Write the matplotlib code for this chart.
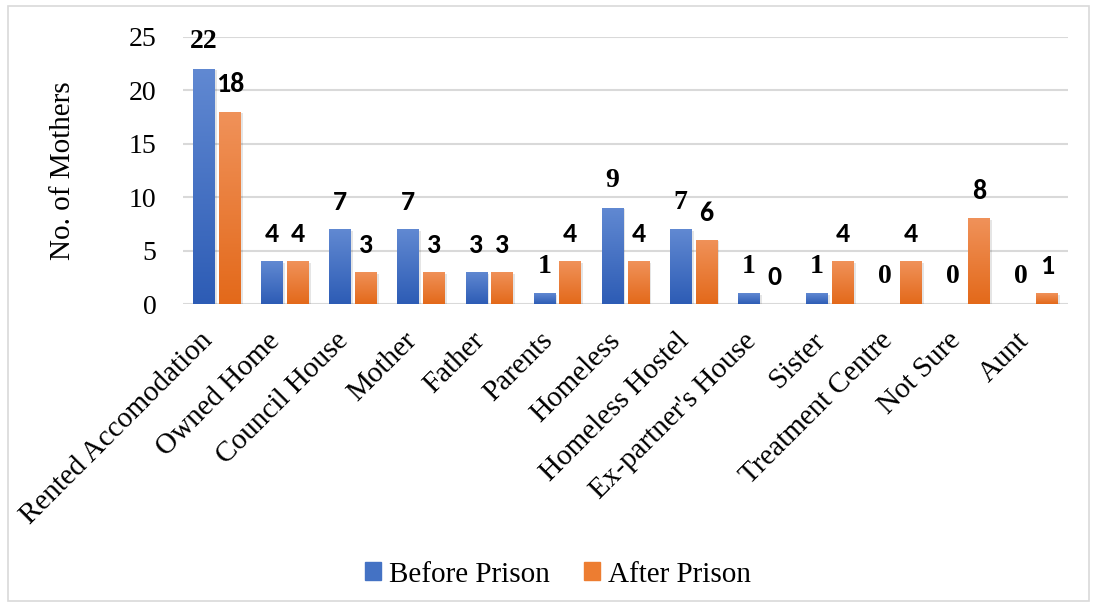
import numpy as np
import matplotlib.pyplot as plt
from matplotlib.colors import LinearSegmentedColormap
from matplotlib.patches import Rectangle, Patch
from matplotlib.transforms import ScaledTranslation

categories = ["Rented Accomodation", "Owned Home", "Council House", "Mother", "Father",
              "Parents", "Homeless", "Homeless Hostel", "Ex-partner's House", "Sister",
              "Treatment Centre", "Not Sure", "Aunt"]
before = [22, 4, 7, 7, 3, 1, 9, 7, 1, 1, 0, 0, 0]
after = [18, 4, 3, 3, 3, 4, 4, 6, 0, 4, 4, 8, 1]
yticks = [0, 5, 10, 15, 20, 25]

# which value labels show in the serif face (as in the original)
serif_before = {0, 5, 6, 7, 8, 9, 10, 11, 12}

blue_cm = LinearSegmentedColormap.from_list("b", ["#2d5cb5", "#6189d2"])
orange_cm = LinearSegmentedColormap.from_list("o", ["#e3691a", "#f0925a"])

fig = plt.figure(figsize=(10.94, 6.08), dpi=100)
fig.patches.append(Rectangle((0.007, 0.012), 0.988, 0.978, transform=fig.transFigure,
                             fill=False, edgecolor="#d9d9d9", linewidth=1.2))
ax = fig.add_axes([0.1673, 0.5, 0.8089, 0.4396])

x = np.arange(len(categories))
w = 0.32
off = 0.19

grad = np.linspace(0, 1, 256).reshape(-1, 1)


def gradient_bars(bars, cmap):
    for b in bars:
        h = b.get_height()
        if h <= 0:
            continue
        x0 = b.get_x()
        # soft shadow
        ax.add_patch(Rectangle((x0 + 0.02, -0.2), b.get_width() + 0.01, h + 0.05,
                               facecolor="#000000", alpha=0.1, linewidth=0, zorder=2))
        im = ax.imshow(grad, cmap=cmap, origin="lower", aspect="auto",
                       extent=[x0, x0 + b.get_width(), 0, h], zorder=3)
        im.set_clip_path(b)


b1 = ax.bar(x - off, before, w, color="none", edgecolor="none", zorder=3)
b2 = ax.bar(x + off, after, w, color="none", edgecolor="none", zorder=3)
gradient_bars(b1, blue_cm)
gradient_bars(b2, orange_cm)

for i in range(len(categories)):
    if i in serif_before:
        ax.annotate(str(before[i]), (x[i] - off, before[i]), xytext=(0, 19.5),
                    textcoords="offset points", ha="center", va="center",
                    fontsize=20, fontweight="bold", fontfamily="Liberation Serif")
    else:
        ax.annotate(str(before[i]), (x[i] - off, before[i]), xytext=(0, 19.5),
                    textcoords="offset points", ha="center", va="center",
                    fontsize=20, fontweight="bold", fontfamily="Carlito")
    ax.annotate(str(after[i]), (x[i] + off, after[i]), xytext=(0, 19.5),
                textcoords="offset points", ha="center", va="center",
                fontsize=20, fontweight="bold", fontfamily="Carlito")

ax.set_xlim(-0.5, len(categories) - 0.5)
ax.set_ylim(0, 25)
ax.set_yticks(yticks)
ax.grid(axis="y", color="#d9d9d9", linewidth=1.5, zorder=0)
ax.set_axisbelow(True)
for s in ax.spines.values():
    s.set_visible(False)
ax.axhline(0, color="#d9d9d9", linewidth=2, zorder=1)
ax.tick_params(axis="both", length=0)
ax.tick_params(axis="y", pad=19)
ax.set_yticklabels([str(t) for t in yticks], family="Liberation Serif", fontsize=20)
ax.set_xticks(x)
ax.set_xticklabels(categories, rotation=45, ha="right", rotation_mode="anchor",
                   family="Liberation Serif", fontsize=21)
ax.tick_params(axis="x", pad=10)
shift = ScaledTranslation(-13 / 72, -7 / 72, fig.dpi_scale_trans)
for lab in ax.get_xticklabels():
    lab.set_transform(lab.get_transform() + shift)
ax.set_ylabel("No. of Mothers", family="Liberation Serif", fontsize=21, labelpad=38)

handles = [Patch(color="#4472c4"), Patch(color="#ed7d31")]
fig.legend(handles, ["Before Prison", "After Prison"], loc="center",
           bbox_to_anchor=(0.51, 0.055), ncol=2, frameon=False,
           prop={"family": "Liberation Serif", "size": 21},
           handlelength=0.55, handleheight=0.55, handletextpad=0.25, columnspacing=1.2)

fig.savefig("out.png", dpi=100)
